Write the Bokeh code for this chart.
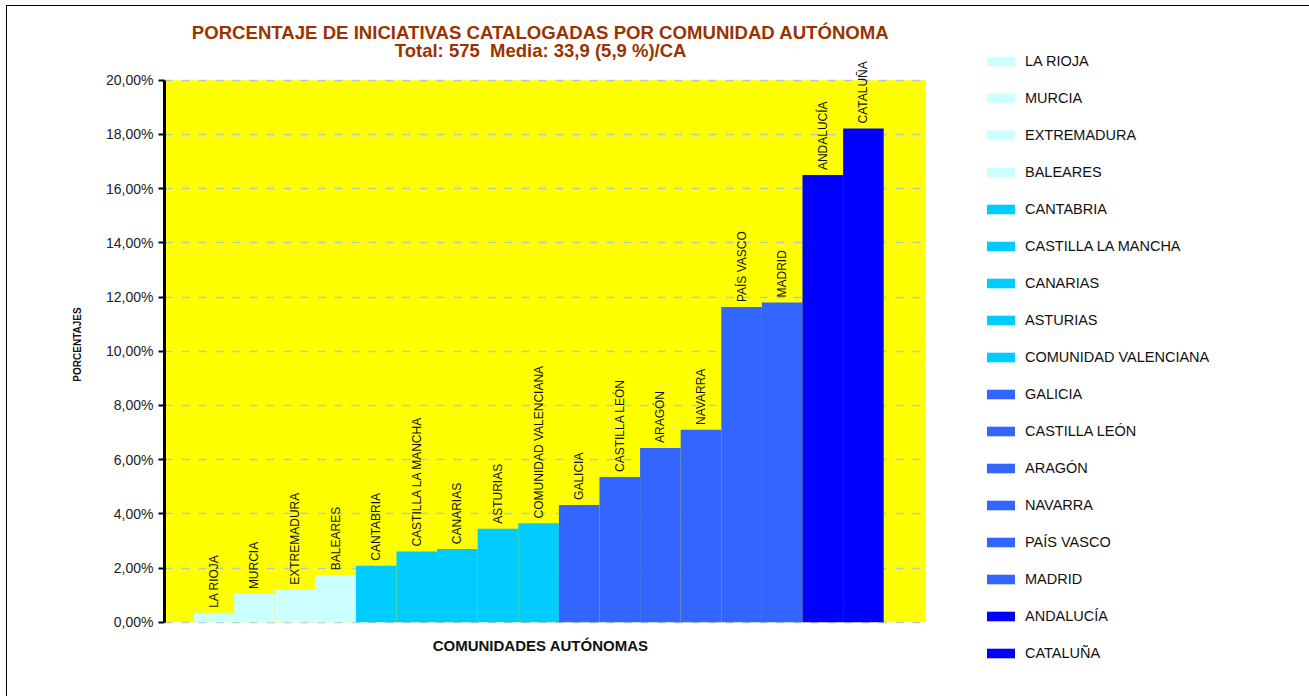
import math
from bokeh.plotting import figure
from bokeh.models import (ColumnDataSource, Range1d, FixedTicker, CustomJSTickFormatter,
                          LabelSet, Label, Legend, LegendItem, BoxAnnotation)
from bokeh.core.properties import value
from bokeh.embed import file_html
from bokeh.resources import INLINE

# ---- data ----
regions = ["LA RIOJA", "MURCIA", "EXTREMADURA", "BALEARES", "CANTABRIA",
           "CASTILLA LA MANCHA", "CANARIAS", "ASTURIAS", "COMUNIDAD VALENCIANA",
           "GALICIA", "CASTILLA LEÓN", "ARAGÓN", "NAVARRA", "PAÍS VASCO", "MADRID",
           "ANDALUCÍA", "CATALUÑA"]
percent = [0.35, 1.04, 1.20, 1.74, 2.09, 2.61, 2.70, 3.45, 3.65, 4.33, 5.36, 6.43,
           7.10, 11.63, 11.80, 16.50, 18.22]
group_colors = ["#CCFFFF"] * 4 + ["#00CCFF"] * 5 + ["#3366FF"] * 6 + ["#0000FF"] * 2
y_ticks = [0, 2, 4, 6, 8, 10, 12, 14, 16, 18, 20]

title_text = "PORCENTAJE DE INICIATIVAS CATALOGADAS POR COMUNIDAD AUTÓNOMA"
subtitle_text = "Total: 575\u00a0 Media: 33,9 (5,9 %)/CA"
x_title = "COMUNIDADES AUTÓNOMAS"
y_title = "PORCENTAJES"

FONT = "Liberation Sans"
BROWN = "#993300"

xs = [i + 0.5 for i in range(len(regions))]
src = ColumnDataSource(dict(x=xs, pct=percent, name=regions, color=group_colors))

p = figure(frame_width=761, frame_height=664, output_backend="svg", toolbar_location=None,
           x_range=Range1d(-0.714, 18.03), y_range=Range1d(-2, 22.5),
           min_border_left=157, min_border_right=5, min_border_top=6,
           min_border_bottom=20)
p.background_fill_color = "white"
p.border_fill_color = "white"
p.outline_line_color = None
p.styles = {"margin-left": "6px", "margin-top": "5px",
            "border-left": "1px solid black", "border-top": "1px solid black"}

# yellow plot area (0 % .. 20 %)
p.add_layout(BoxAnnotation(bottom=0, top=20, fill_color="#FFFF00", fill_alpha=1.0,
                           line_color=None, level="image"))

bars = p.vbar(x="x", top="pct", width=1.0, fill_color="color", line_color=None,
              source=src)

# axes
p.xaxis.visible = False
p.xgrid.visible = False
yax = p.yaxis[0]
yax.bounds = (0, 20)
yax.ticker = FixedTicker(ticks=y_ticks)
yax.formatter = CustomJSTickFormatter(code="return tick.toFixed(2).replace('.', ',') + '%';")
yax.axis_line_width = 3
yax.axis_line_color = "black"
yax.major_tick_line_width = 2
yax.major_tick_out = 6
yax.major_tick_in = 0
yax.minor_tick_line_color = None
yax.major_label_text_font = FONT
yax.major_label_text_font_size = "14px"
yax.major_label_text_color = "#222222"
yax.major_label_standoff = 5
yax.axis_label = y_title
yax.axis_label_text_font = FONT
yax.axis_label_text_font_size = "10px"
yax.axis_label_text_font_style = "bold"
yax.axis_label_text_color = "#111111"
yax.axis_label_standoff = 20

p.ygrid.ticker = FixedTicker(ticks=y_ticks)
p.ygrid.grid_line_color = "#B4C6CE"
p.ygrid.grid_line_width = 1.5
p.ygrid.grid_line_dash = "8 9"

# bar labels
labels = LabelSet(x="x", y="pct", text="name", source=src, angle=math.pi / 2,
                  y_offset=5, text_align="left", text_baseline="middle",
                  text_font=value(FONT), text_font_size=value("12px"),
                  text_color="#111111")
p.add_layout(labels)

# titles
p.add_layout(Label(x=8.55, y=21.76, text=title_text, text_align="center",
                   text_baseline="middle", text_font=FONT, text_font_size="18.6px",
                   text_font_style="bold", text_color=BROWN))
p.add_layout(Label(x=8.55, y=21.08, text=subtitle_text, text_align="center",
                   text_baseline="middle", text_font=FONT, text_font_size="18.5px",
                   text_font_style="bold", text_color=BROWN))
p.add_layout(Label(x=8.55, y=-0.86, text=x_title, text_align="center",
                   text_baseline="middle", text_font=FONT, text_font_size="15px",
                   text_font_style="bold", text_color="#111111"))

# legend in the right panel
items = [LegendItem(label=regions[i], renderers=[bars], index=i) for i in range(len(regions))]
lg = Legend(items=items, location=(58, 15), orientation="vertical",
            padding=0, margin=0, spacing=21, glyph_width=35, glyph_height=12,
            label_height=15, label_standoff=7, label_text_font=FONT,
            label_text_font_size="14.5px", label_text_color="#111111",
            label_text_baseline="middle", border_line_color=None,
            background_fill_alpha=0)
p.add_layout(lg, "right")

open("out.html", "w").write(file_html(p, INLINE))
